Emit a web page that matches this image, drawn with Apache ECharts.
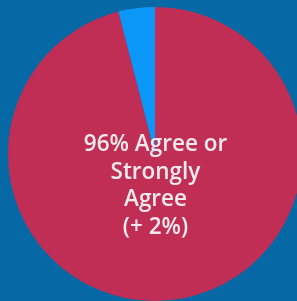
<!DOCTYPE html>
<html>
<head>
<meta charset="utf-8">
<script src="https://cdn.jsdelivr.net/npm/echarts@6/dist/echarts.min.js"></script>
<style>
html, body { margin: 0; padding: 0; background: #0669a5; }
#main { width: 297px; height: 301px; }
</style>
</head>
<body>
<div id="main"></div>
<script>
var categories = ['Agree or Strongly Agree', 'Other'];
var values = [96, 4];
var sliceColors = ['#c02e56', '#0a97f8'];
var centerText = '96% Agree or\nStrongly\nAgree\n(+ 2%)';

var myChart = echarts.init(document.getElementById('main'));
option = {
	backgroundColor: '#0669a5',
	color: sliceColors,
	animation: false,
	graphic: [{
		type: 'text',
		z: 100,
		x: 155.5,
		y: 131,
		style: {
			text: centerText,
			fill: '#f3eaec',
			font: '600 22.5px "Open Sans", sans-serif',
			textAlign: 'center',
			lineHeight: 27.5
		}
	}],
	series: [{
		type: 'pie',
		center: [155, 154],
		radius: 147,
		startAngle: 90,
		clockwise: true,
		label: { show: false },
		labelLine: { show: false },
		itemStyle: { borderWidth: 0 },
		data: categories.map(function (c, i) {
			return { name: c, value: values[i] };
		})
	}]
};
myChart.setOption(option);
</script>
</body>
</html>
